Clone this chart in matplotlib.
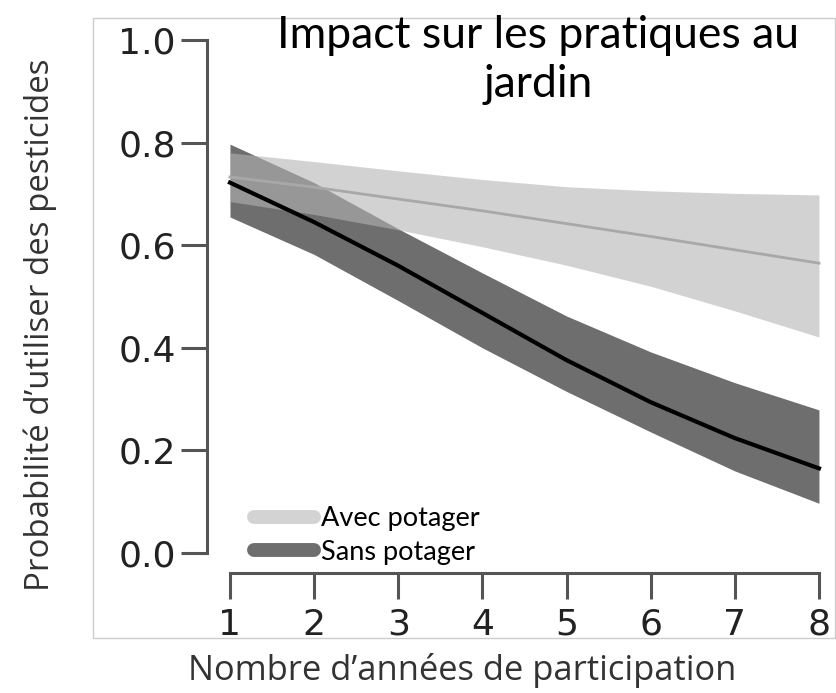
import matplotlib.pyplot as plt
from matplotlib.lines import Line2D
from matplotlib.patches import Rectangle

# values
years = [1, 2, 3, 4, 5, 6, 7, 8]
avec_fit = [0.733, 0.713, 0.690, 0.667, 0.642, 0.617, 0.591, 0.565]
avec_low = [0.685, 0.660, 0.630, 0.597, 0.561, 0.520, 0.472, 0.421]
avec_high = [0.780, 0.763, 0.745, 0.728, 0.714, 0.706, 0.701, 0.698]
sans_fit = [0.722, 0.645, 0.560, 0.468, 0.376, 0.294, 0.224, 0.165]
sans_low = [0.655, 0.582, 0.492, 0.400, 0.315, 0.236, 0.160, 0.097]
sans_high = [0.797, 0.722, 0.632, 0.546, 0.462, 0.392, 0.332, 0.279]
yticks = [0.0, 0.2, 0.4, 0.6, 0.8, 1.0]
labels = ["Avec potager", "Sans potager"]

fig = plt.figure(figsize=(8.36, 6.93), dpi=100)
ax = fig.add_axes([0.2751, 0.2020, 0.7045, 0.7403])

# dark band + black fit line, then the light band on top
ax.fill_between(years, sans_low, sans_high, color="#6e6e6e", lw=0)
ax.plot(years, sans_fit, color="black", lw=3, clip_on=False)
ax.fill_between(years, avec_low, avec_high, color="#b4b4b4", alpha=0.59, lw=0)
ax.plot(years, avec_fit, color="#a8a8a8", lw=2, clip_on=False)

ax.set_xlim(1, 8)
ax.set_ylim(0, 1)
ax.set_xticks(years)
ax.set_yticks(yticks)
ax.set_yticklabels([f"{v:.1f}" for v in yticks])

for side in ["top", "right"]:
    ax.spines[side].set_visible(False)
ax.spines["left"].set_position(("outward", 16.5))
ax.spines["bottom"].set_position(("outward", 14.4))
ax.spines["left"].set_bounds(0, 1)
ax.spines["bottom"].set_bounds(1, 8)
for side in ["left", "bottom"]:
    ax.spines[side].set_color("#555555")
    ax.spines[side].set_linewidth(2.2)
ax.tick_params(length=19, width=2.2, color="#555555", labelsize=26,
               labelcolor="#222222")
ax.tick_params(axis="y", pad=3.5)
ax.tick_params(axis="x", pad=6)

handles = [Line2D([], [], color="#d3d3d3", lw=10, solid_capstyle="round"),
           Line2D([], [], color="#6e6e6e", lw=10, solid_capstyle="round")]
ax.legend(handles, labels, loc="lower left", bbox_to_anchor=(0.0, -0.07),
          frameon=False, prop={"family": "Lato", "size": 19.5},
          handlelength=2.2, handletextpad=0.25, labelspacing=0.3)

# border of the pasted picture
fig.add_artist(Rectangle((93 / 836, 55 / 693), 742 / 836, 620 / 693,
                         transform=fig.transFigure, fill=False,
                         edgecolor="#cccccc", lw=1))

fig.text(538 / 836, 1 - 60 / 693, "Impact sur les pratiques au\njardin",
         ha="center", va="center", family="Lato", fontsize=32,
         linespacing=1.25)
fig.text(40 / 836, 1 - 325 / 693, "Probabilité d’utiliser des pesticides",
         rotation=90, ha="center", va="center", family="Open Sans",
         fontsize=23.8, color="#333333")
fig.text(462 / 836, 1 - 670 / 693, "Nombre d’années de participation",
         ha="center", va="center", family="Open Sans", fontsize=24.8,
         color="#333333")

fig.savefig("out.png", dpi=100)
